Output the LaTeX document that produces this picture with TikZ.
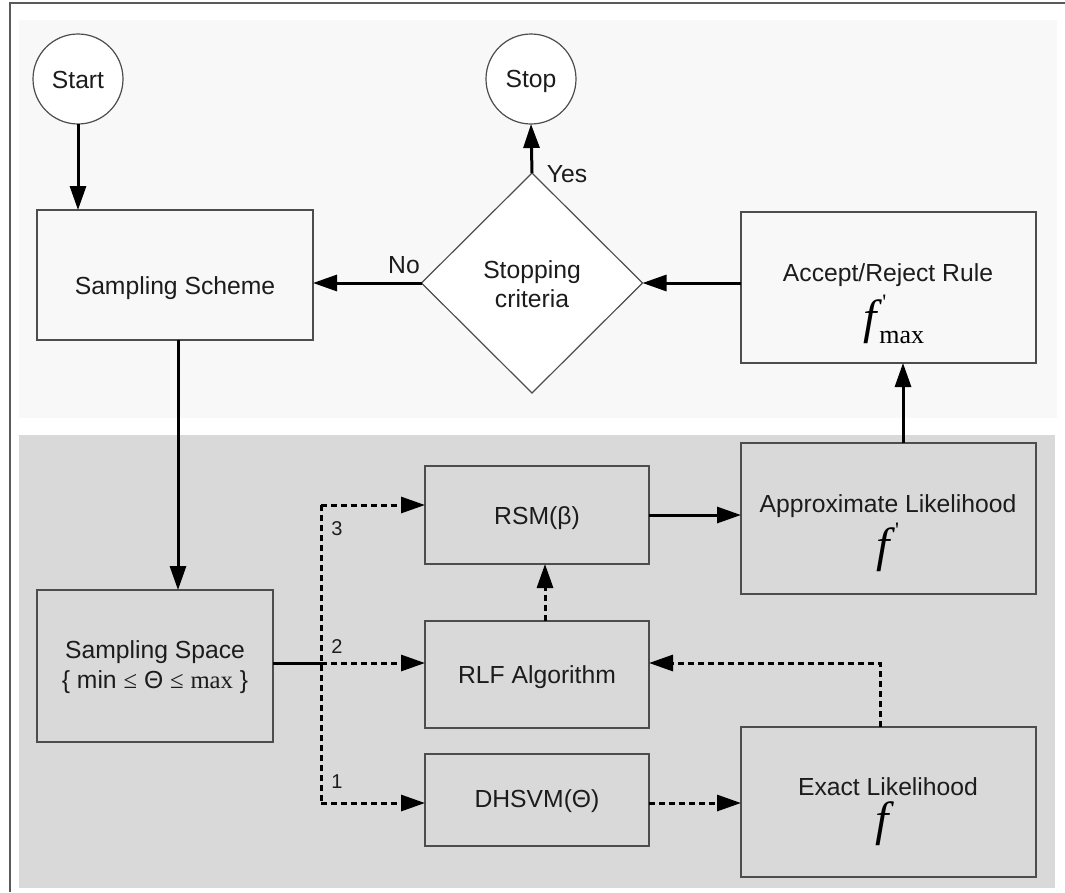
\documentclass[tikz,border=0pt]{standalone}
\usepackage{fontspec}
\setmainfont{Liberation Sans}
\newfontfamily\tms{Liberation Serif}
\usetikzlibrary{shapes.geometric,arrows.meta}
\definecolor{topbg}{HTML}{F8F8F8}
\definecolor{botbg}{HTML}{D9D9D9}
\definecolor{boxline}{HTML}{4D4D4D}
\definecolor{framec}{HTML}{5A5A5A}
\definecolor{textc}{HTML}{1C1C1C}
\newcommand\myf{{\tms\itshape\fontsize{48}{48}\selectfont f}}
\newcommand\myprime{\kern5pt\raisebox{24pt}{\tms\fontsize{22}{22}\selectfont\textquotesingle}}
\begin{document}
\begin{tikzpicture}[x=1pt,y=-1pt,
  box/.style={draw=boxline,line width=1.4pt,rectangle,inner sep=0pt,outer sep=0pt},
  circ/.style={draw=boxline,line width=1.2pt,circle,fill=white,inner sep=0pt,outer sep=0pt,minimum size=90pt},
  txt/.style={font=\fontsize{24.7}{29}\selectfont,text=textc,inner sep=0pt,anchor=base},
  small/.style={font=\fontsize{20}{22}\selectfont,text=textc,inner sep=0pt,anchor=base},
  arr/.style={line width=3pt,-{Triangle[length=24pt,width=16pt]}},
  dsh/.style={arr,dash pattern=on 6pt off 4pt},
  seg/.style={line width=3pt},
  dseg/.style={line width=3pt,dash pattern=on 6pt off 4pt}]
% background
\fill[white] (0,0) rectangle (1065,892);
\useasboundingbox (0,0) rectangle (1065,892);
\draw[line width=1.5pt,framec] (10,892) -- (10,3) -- (1065,3);
\fill[topbg] (19,20) rectangle (1057,418);
\fill[botbg] (19,435) rectangle (1055,888);
% nodes
\node[circ] (start) at (78,79) {};
\node[circ] (stop) at (531,79) {};
\node[box,minimum width=276pt,minimum height=130pt] (scheme) at (175,275) {};
\node[draw=boxline,line width=1.2pt,diamond,fill=white,inner sep=0pt,outer sep=0pt,minimum width=221pt,minimum height=220pt] (crit) at (532,283) {};
\node[box,minimum width=295pt,minimum height=151pt] (accept) at (888.5,287.5) {};
\node[box,minimum width=236pt,minimum height=152pt] (space) at (155,666) {};
\node[box,minimum width=224pt,minimum height=98pt] (rsm) at (537,515) {};
\node[box,minimum width=224pt,minimum height=107pt] (rlf) at (537,674.5) {};
\node[box,minimum width=224pt,minimum height=92pt] (dh) at (537,800) {};
\node[box,minimum width=295pt,minimum height=151pt] (approx) at (888.5,518.5) {};
\node[box,minimum width=295pt,minimum height=150pt] (exact) at (888.5,802) {};
% texts
\node[txt] (tstart) at (78,88) {Start};
\node[txt] (tstop) at (531,87) {Stop};
\node[txt] (tscheme) at (175,294) {Sampling Scheme};
\node[txt] (tcrit1) at (532,278) {Stopping};
\node[txt] (tcrit2) at (532,307) {criteria};
\node[txt] (tacc) at (888,281) {Accept/Reject Rule};
\node[txt,text=black] (tfmax) at (894,333) {\myf\rlap{\myprime}\kern2pt\raisebox{-10pt}{\tms\fontsize{26}{26}\selectfont max}};
\node[txt] (tyes) at (567,182) {Yes};
\node[txt] (tno) at (404,273) {No};
\node[txt] (tsp1) at (155,658) {Sampling Space};
\node[txt] (tsp2) at (155,688) {\{ min {\tms ≤} Θ {\tms ≤} {\tms max} \}};
\node[txt] (trsm) at (537,524) {RSM(β)};
\node[txt] (trlf) at (537,683) {RLF Algorithm};
\node[txt] (tdh) at (537,807) {DHSVM(Θ)};
\node[txt] (tapp) at (888,512) {Approximate Likelihood};
\node[txt,text=black] (tfp) at (888,561) {\myf\myprime};
\node[txt] (tex) at (888,795) {Exact Likelihood};
\node[txt,text=black] (tf) at (882,835) {\myf};
\node[small] (n3) at (337,535) {3};
\node[small] (n2) at (337,653) {2};
\node[small] (n1) at (337,788) {1};
% junction coordinates
\coordinate (j3) at (321,505);
\coordinate (j2) at (321,663);
\coordinate (j1) at (321,803);
% connectors
\draw[arr] (start.south) -- (start.south |- scheme.north);
\draw[arr] ([xshift=3pt]scheme.south) -- ([xshift=3pt]scheme.south |- space.north);
\draw[arr] (crit.north) -- (stop.south);
\draw[arr] (crit.west) -- (crit.west -| scheme.east);
\draw[arr] (crit.east -| accept.west) -- (crit.east);
\draw[arr] ([xshift=14.5pt]approx.north) -- ([xshift=14.5pt]accept.south);
\draw[seg] (space.east |- j2) -- (j2);
\draw[dseg] (j3) -- (j1);
\draw[dsh] (j3) -- (j3 -| rsm.west);
\draw[dsh] (j2) -- (j2 -| rlf.west);
\draw[dsh] (j1) -- (j1 -| dh.west);
\draw[arr] (rsm.east) -- (rsm.east -| approx.west);
\draw[dsh] (j1 -| dh.east) -- (j1 -| exact.west);
\draw[dsh] ([xshift=8pt]rlf.north) -- ([xshift=8pt]rsm.south);
\draw[dsh] ([xshift=-8.5pt]exact.north) |- (rlf.east |- j2);
\end{tikzpicture}
\end{document}
